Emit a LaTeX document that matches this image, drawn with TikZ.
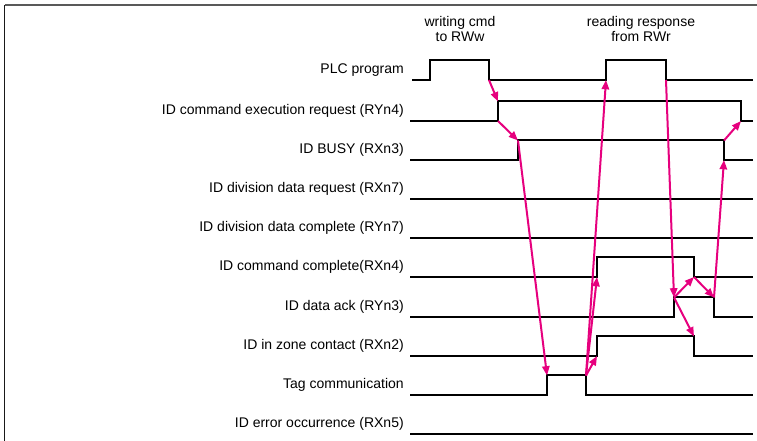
\documentclass[tikz,border=0pt]{standalone}
\usepackage{fontspec}
\setmainfont{Liberation Sans}
\usetikzlibrary{arrows.meta}
\definecolor{cuepink}{RGB}{230,0,126}

\begin{document}
\begin{tikzpicture}[
	x=0.75pt,y=-0.75pt,
	lbl/.style={anchor=east,inner sep=0pt,font=\fontsize{10.5}{12}\selectfont},
	hdr/.style={align=center,inner sep=0pt,font=\fontsize{10.5}{11.25}\selectfont},
	wave/.style={draw=black,line width=1.5pt},
	cue/.style={draw=cuepink,line width=1.5pt,-{Triangle[length=7pt,width=5.5pt]}}
	]
	\useasboundingbox (0,0) rectangle (757,441);
	\draw[draw=black!65,line width=1.2pt] (757,5) -- (4.5,5);
	\draw[draw=black!90,line width=1.2pt] (4.5,5) -- (4.5,441);

	\node[hdr] (hw) at (460,29) {writing cmd\\to RWw};
	\node[hdr] (hr) at (641,29) {reading response\\from RWr};

	\foreach \lab/\y [count=\i] in {PLC program/80,ID command execution request (RYn4)/121,ID BUSY (RXn3)/160,ID division data request (RXn7)/199,ID division data complete (RYn7)/238,ID command complete(RXn4)/277,ID data ack (RYn3)/317,ID in zone contact (RXn2)/356,Tag communication/395,ID error occurrence (RXn5)/434}{
		\node[lbl] (l\i) at (404,\y-10) {\lab};
	}

	\draw[wave] (412,80) -- (430,80) -- (430,60.5) -- (489,60.5) -- (489,80) coordinate (p1) -- (606,80) coordinate (p2) -- (606,60.5) -- (666,60.5) -- (666,80) coordinate (p3) -- (753,80);
	\draw[wave] (410,121) -- (498,121) coordinate (q1) -- (498,101.5) coordinate (q2) -- (741,101.5) -- (741,121) coordinate (q3) -- (753,121);
	\draw[wave] (410,160) -- (518,160) -- (518,140.5) coordinate (b1) -- (724,140.5) coordinate (b2) -- (724,160) coordinate (b3) -- (753,160);
	\draw[wave] (410,199) -- (753,199);
	\draw[wave] (410,238) -- (753,238);
	\draw[wave] (410,277) -- (597,277) coordinate (c1) -- (597,257.5) -- (694,257.5) -- (694,277) coordinate (c2) -- (753,277);
	\draw[wave] (410,317) -- (674,317) -- (674,297.5) coordinate (k1) -- (714,297.5) coordinate (k2) -- (714,317) -- (753,317);
	\draw[wave] (410,356) -- (597,356) coordinate (z1) -- (597,336.5) -- (694,336.5) coordinate (z2) -- (694,356) -- (753,356);
	\draw[wave] (410,395) -- (547,395) -- (547,375.5) coordinate (g1) -- (586,375.5) coordinate (g2) -- (586,395) -- (753,395);
	\draw[wave] (410,434) -- (753,434);

	\draw[cue] (p1) -- (q2);
	\draw[cue] (q1) -- (b1);
	\draw[cue] (b1) -- (g1);
	\draw[cue] (g2) -- (p2);
	\draw[cue] (g2) -- (c1);
	\draw[cue] (g2) -- (z1);
	\draw[cue] (p3) -- (k1);
	\draw[cue] (k1) -- (c2);
	\draw[cue] (k1) -- (z2);
	\draw[cue] (c2) -- (k2);
	\draw[cue] (k2) -- (b3);
	\draw[cue] (b2) -- (q3);
\end{tikzpicture}
\end{document}
